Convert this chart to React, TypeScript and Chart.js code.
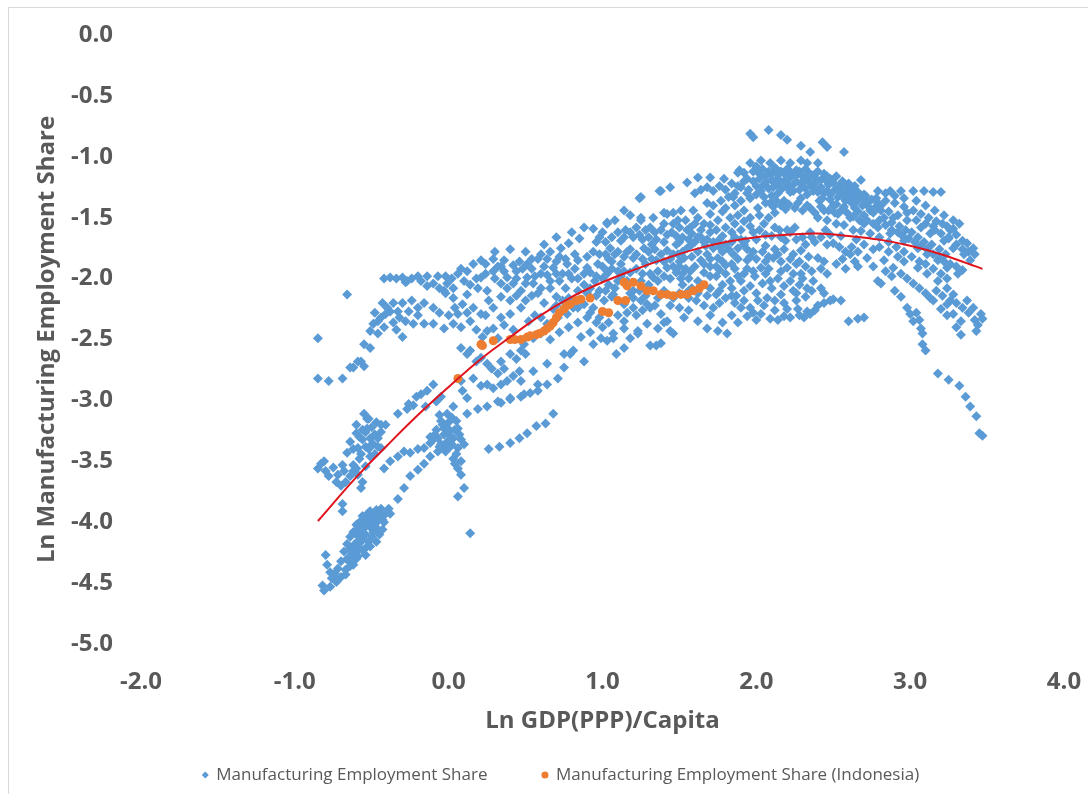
import React, { useEffect, useRef } from 'react';
import { Chart, registerables } from 'chart.js';

Chart.register(...registerables);

const X_TICKS = [-2, -1, 0, 1, 2, 3, 4];
const Y_TICKS = [-5, -4.5, -4, -3.5, -3, -2.5, -2, -1.5, -1, -0.5, 0];

const SERIES_LABEL = 'Manufacturing Employment Share';
const INDONESIA_LABEL = 'Manufacturing Employment Share (Indonesia)';
const X_TITLE = 'Ln GDP(PPP)/Capita';
const Y_TITLE = 'Ln Manufacturing Employment Share';

const blueLowerLeft: [number, number][] = [
  [-0.81,-4.56],[-0.82,-4.52],[-0.77,-4.53],[-0.73,-4.49],[-0.70,-4.45],[-0.67,-4.39],[-0.65,-4.32],[-0.62,-4.28],
  [-0.60,-4.23],[-0.57,-4.16],[-0.54,-4.10],[-0.51,-4.04],[-0.47,-4.00],[-0.49,-4.08],[-0.52,-4.16],[-0.56,-4.23],
  [-0.59,-4.28],[-0.62,-4.35],[-0.67,-4.43],[-0.72,-4.47],[-0.44,-3.95],[-0.46,-4.06],[-0.47,-4.16],[-0.51,-4.20],
  [-0.54,-4.27],[-0.41,-3.93],[-0.42,-4.00],[-0.44,-3.89],[-0.49,-3.94],[-0.52,-4.00],[-0.56,-4.08],[-0.59,-4.16],
  [-0.62,-4.20],[-0.47,-3.90],[-0.51,-3.91],[-0.54,-3.98],[-0.57,-4.04],[-0.60,-4.10],[-0.80,-4.27],[-0.79,-4.35],
  [-0.77,-4.41],[-0.69,-3.91],[-0.69,-3.85],[-0.64,-4.12],[-0.59,-4.06],[-0.55,-4.01],[-0.39,-3.89],[-0.43,-4.06],
  [-0.63,-4.26],[-0.61,-4.18],[-0.58,-4.12],[-0.55,-4.05],[-0.53,-3.96],[-0.50,-3.98],[-0.48,-4.02],[-0.46,-3.96],
  [-0.50,-4.12],[-0.53,-4.20],[-0.56,-4.14],[-0.58,-4.22],[-0.60,-4.30],[-0.64,-4.36],[-0.66,-4.30],[-0.45,-4.10],
  [-0.43,-3.98],
  [-0.58,-4.00],[-0.56,-3.95],[-0.52,-3.92],[-0.60,-4.02],[-0.62,-4.08],[-0.66,-4.18],[-0.68,-4.24],[-0.70,-4.32],
  [-0.72,-4.38],[-0.74,-4.42],[-0.76,-4.46],[-0.64,-4.22],[-0.48,-3.92],
];

const blueLeftMiddle: [number, number][] = [
  [-0.55,-3.11],[-0.52,-3.15],[-0.53,-3.23],[-0.51,-3.31],[-0.49,-3.36],[-0.46,-3.31],[-0.44,-3.39],[-0.59,-3.39],
  [-0.57,-3.44],[-0.62,-3.53],[-0.62,-3.58],[-0.59,-3.61],[-0.56,-3.67],[-0.57,-3.72],[-0.73,-3.67],[-0.72,-3.61],
  [-0.69,-3.53],[-0.81,-3.50],[-0.85,-3.56],[-0.83,-3.52],[-0.80,-3.58],[-0.66,-3.43],[-0.64,-3.34],[-0.60,-3.27],
  [-0.54,-3.38],[-0.51,-3.46],[-0.54,-3.54],[-0.67,-3.67],[-0.41,-3.20],
  [-0.60,-3.20],[-0.56,-3.24],[-0.50,-3.22],[-0.48,-3.28],[-0.56,-3.32],[-0.52,-3.40],[-0.48,-3.44],[-0.58,-3.48],
  [-0.60,-3.56],[-0.64,-3.62],[-0.68,-3.58],[-0.75,-3.55],[-0.78,-3.62],[-0.70,-3.70],
  [-0.62,-3.40],[-0.58,-3.30],[-0.54,-3.26],[-0.50,-3.36],[-0.46,-3.38],[-0.44,-3.26],[-0.47,-3.18],
  [-0.42,-3.56],[-0.38,-3.50],[-0.33,-3.46],[-0.29,-3.42],[-0.25,-3.43],[-0.20,-3.40],[-0.16,-3.39],[-0.12,-3.35],
  [-0.07,-3.31],[-0.03,-3.28],[0.01,-3.25],[0.06,-3.23],
  [-0.38,-3.93],[-0.33,-3.81],[-0.29,-3.72],[-0.25,-3.62],[-0.20,-3.57],[-0.16,-3.52],[-0.12,-3.46],[-0.07,-3.42],
  [-0.03,-3.39],[0.01,-3.38],
  [-0.03,-3.23],[0.03,-3.31],[-0.01,-3.34],[-0.05,-3.36],[-0.10,-3.32],[0.06,-3.39],[0.03,-3.48],[0.06,-3.56],
  [0.08,-3.61],[0.10,-3.72],[0.06,-3.79],[0.14,-4.09],[-0.02,-3.21],[-0.05,-3.17],[0.05,-3.17],[-0.01,-3.11],
  [0.03,-3.05],[0.08,-2.84],[0.12,-2.98],[0.09,-2.92],
  [-0.08,-3.24],[-0.04,-3.20],[0.00,-3.28],[0.04,-3.24],[0.02,-3.36],[-0.02,-3.42],[0.05,-3.44],[0.08,-3.32],
  [0.00,-3.18],[-0.06,-3.12],[0.02,-3.14],
  [-0.09,-3.28],[-0.06,-3.38],[0.07,-3.28],[0.10,-3.36],[-0.12,-3.30],[0.04,-3.52],[0.08,-3.50],
  [-0.33,-3.11],[-0.26,-3.03],[-0.18,-2.95],[-0.14,-2.92],[-0.10,-2.87],[-0.21,-2.97],[-0.15,-3.05],[-0.08,-3.01],
  [-0.05,-2.97],[-0.53,-3.15],[-0.44,-3.20],[-0.27,-3.07],[-0.23,-3.04],[-0.01,-3.25],
];

const blueCentre: [number, number][] = [
  [0.12,-3.11],[0.19,-3.07],[0.25,-3.05],[0.34,-3.02],[0.40,-2.99],[0.47,-2.97],[0.53,-2.94],[0.58,-2.87],
  [0.26,-3.40],[0.33,-3.38],[0.40,-3.35],[0.46,-3.31],[0.51,-3.27],[0.57,-3.21],[0.63,-3.19],[0.68,-3.11],
  [0.21,-2.88],[0.25,-2.87],[0.29,-2.90],[0.34,-2.87],[0.38,-2.84],[0.16,-2.82],[0.47,-2.84],[0.55,-2.76],
  [0.64,-2.70],[0.75,-2.62],[0.81,-2.59],[0.88,-2.68],[0.94,-2.54],[0.99,-2.49],[1.07,-2.49],[1.14,-2.41],
  [1.23,-2.43],[1.29,-2.37],[1.36,-2.41],[1.42,-2.35],[1.38,-2.53],[1.31,-2.55],[1.46,-2.45],
  [0.32,-3.01],[0.40,-2.98],[0.49,-2.95],[0.58,-2.92],[0.64,-2.87],[0.71,-2.82],[0.75,-2.73],[0.79,-2.62],
  [0.12,-2.62],[0.18,-2.68],[0.28,-2.74],[0.32,-2.78],[0.36,-2.74],[0.44,-2.66],[0.50,-2.62],[0.42,-2.80],
  [0.46,-2.76],
  [0.08,-2.57],[0.14,-2.59],[0.21,-2.65],[0.25,-2.70],[0.34,-2.68],[0.40,-2.62],[0.47,-2.59],[0.49,-2.54],
  [0.55,-2.49],[0.60,-2.45],[0.64,-2.37],[0.71,-2.32],[0.77,-2.29],[0.81,-2.24],[0.88,-2.21],[0.94,-2.24],
  [1.01,-2.18],[1.07,-2.13],[1.14,-2.21],[1.20,-2.10],[1.29,-2.21],[1.40,-2.10],[1.46,-2.16],
  [0.66,-2.50],[0.72,-2.44],[0.78,-2.40],[0.84,-2.36],[0.90,-2.32],[0.96,-2.36],[1.00,-2.40],[0.86,-2.48],
  [0.92,-2.44],
  [-0.28,-2.03],[-0.20,-1.98],[-0.14,-1.98],[-0.07,-1.98],[-0.02,-1.98],[0.08,-1.92],[0.16,-1.88],[0.21,-1.85],
  [0.29,-1.84],[0.36,-1.85],[0.42,-1.89],[0.51,-1.88],[0.58,-1.84],[0.64,-1.84],[0.73,-1.75],[0.78,-1.71],
  [0.85,-1.67],[0.94,-1.59],[1.03,-1.54],[1.14,-1.44],[1.24,-1.34],[1.25,-1.52],[1.37,-1.28],[1.44,-1.25],
  [1.40,-1.46],[1.33,-1.50],[1.46,-1.46],
  [0.30,-1.78],[0.40,-1.76],[0.50,-1.78],[0.62,-1.72],[0.70,-1.66],[0.80,-1.62],[0.88,-1.58],[0.96,-1.70],
  [1.00,-1.62],[1.08,-1.52],[1.18,-1.48],
  [-0.43,-2.20],[-0.41,-2.29],[-0.49,-2.37],[-0.46,-2.45],[-0.51,-2.57],[-0.57,-2.68],[-0.62,-2.73],[-0.26,-2.27],
  [-0.23,-2.37],[-0.16,-2.37],[-0.10,-2.37],[-0.03,-2.41],[0.03,-2.37],[0.06,-2.29],[0.09,-2.21],[0.03,-2.16],
  [-0.03,-2.10],[-0.01,-2.04],[0.03,-2.08],[0.12,-2.13],[0.19,-2.08],[0.21,-1.99],[0.25,-2.10],[0.29,-2.24],
  [0.34,-2.32],[0.40,-2.29],[0.47,-2.24],[0.29,-2.41],[0.32,-2.49],[0.25,-2.43],[0.21,-2.29],[0.16,-2.24],
  [0.12,-1.94],[0.29,-1.94],[0.38,-1.99],[0.42,-2.04],[0.47,-2.10],[0.51,-1.99],[0.55,-2.04],[0.60,-1.96],
  [0.68,-1.91],[0.77,-1.88],[0.84,-1.85],[0.90,-1.91],[0.97,-1.88],[1.03,-1.96],[1.10,-1.94],[1.16,-2.02],
  [1.25,-2.02],[1.33,-1.99],[1.42,-1.91],[1.49,-1.80],
  [-0.18,-2.02],[-0.14,-2.06],[-0.10,-2.04],[-0.06,-2.08],[-0.02,-2.12],[0.02,-2.00],[0.06,-1.96],[0.10,-2.02],
  [0.14,-2.05],[0.18,-2.00],[0.24,-1.96],[0.30,-2.00],[0.34,-2.04],[0.38,-2.08],[0.44,-2.14],[0.50,-2.18],
  [0.54,-2.14],[0.60,-2.08],[0.66,-2.02],[0.74,-1.96],[0.82,-1.92],[0.88,-1.96],[-0.16,-2.20],[-0.10,-2.24],
  [-0.06,-2.28],[-0.20,-2.30],[0.00,-2.30],[0.08,-2.40],[0.14,-2.35],[0.24,-2.30],[0.36,-2.38],[0.42,-2.42],
  [0.52,-2.35],[0.56,-2.30],[0.60,-2.32],[0.68,-2.25],[0.74,-2.18],[0.84,-2.10],[0.90,-2.12],[0.34,-2.15],
  [0.40,-2.18],[0.26,-2.18],[0.04,-2.24],[0.12,-2.28],[0.18,-2.42],[0.22,-2.48],
  [-0.40,-2.24],[-0.36,-2.20],[-0.46,-2.35],[-0.51,-2.43],[-0.38,-2.27],[-0.27,-2.02],[-0.28,-2.35],[-0.33,-2.27],
  [-0.66,-2.13],[-0.55,-2.54],[-0.59,-2.68],[-0.55,-2.72],
  [-0.48,-2.28],[-0.44,-2.32],[-0.42,-2.40],[-0.36,-2.36],[-0.32,-2.32],[-0.30,-2.20],[-0.24,-2.18],[-0.20,-2.24],
  [-0.34,-2.42],[-0.30,-2.48],
  [-0.42,-2.00],[-0.38,-1.99],[-0.34,-2.00],[-0.30,-1.99],[-0.24,-2.00],
  [-0.85,-2.49],[-0.85,-2.82],[-0.78,-2.84],[-0.69,-2.82],[-0.64,-2.73],
  [0.58,-2.12],[0.66,-2.08],[0.72,-2.02],[0.80,-2.00],[0.88,-2.05],[0.95,-2.02],[0.70,-2.15],[0.62,-2.20],
  [1.05,-1.75],[1.15,-1.60],[1.35,-1.68],[1.48,-1.65],[1.55,-1.60],[1.60,-1.70],[1.50,-1.90],[1.35,-1.85],
  [0.92,-1.95],[0.96,-1.98],[1.00,-2.00],[1.04,-2.05],[1.08,-2.08],[1.12,-1.98],[1.18,-1.95],[1.22,-1.92],
  [1.28,-1.88],[1.32,-1.84],[1.38,-1.80],[1.44,-1.84],[1.50,-1.86],[1.18,-2.12],[1.24,-2.10],[1.30,-2.05],
  [1.36,-2.02],[1.44,-2.00],[1.52,-2.05],[1.58,-2.08],[0.98,-2.10],[1.06,-2.15],[1.26,-1.68],[1.32,-1.72],
  [1.40,-1.70],[1.16,-1.78],
  [0.32,-1.90],[0.36,-1.94],[0.44,-1.94],[0.48,-1.92],[0.54,-1.92],[0.62,-1.90],[0.70,-1.86],[0.76,-1.84],
  [0.82,-1.80],[0.90,-1.82],[0.94,-1.78],[0.98,-1.80],[1.04,-1.84],[1.08,-1.80],[0.44,-2.00],[0.50,-2.04],
  [0.56,-1.98],[0.64,-1.97],[0.70,-1.96],[0.78,-1.96],[0.84,-2.00],[0.92,-2.08],[0.96,-2.14],[1.02,-2.10],
  [0.76,-2.08],[0.70,-2.22],[0.78,-2.16],[0.84,-2.24],[0.92,-2.28],[0.98,-2.32],[1.04,-2.36],[1.10,-2.30],
  [1.16,-2.28],[1.22,-2.30],[1.26,-2.26],[1.34,-2.22],[1.20,-2.16],[1.28,-2.14],[1.36,-2.16],[1.44,-2.22],
  [1.50,-2.24],[1.56,-2.26],[1.50,-2.12],[1.56,-2.16],
  [0.24,-1.88],[0.34,-1.90],[0.46,-1.86],[0.54,-1.84],[0.60,-1.80],[0.66,-1.78],[0.72,-1.82],
];

const blueInner: [number, number][] = [
  [0.98,-1.66],[1.02,-1.70],[1.06,-1.66],[1.10,-1.62],[1.14,-1.66],[1.18,-1.62],[1.22,-1.58],[1.24,-1.64],
  [1.28,-1.60],[1.30,-1.66],[1.34,-1.62],[1.38,-1.60],[1.42,-1.64],[1.02,-1.80],[1.06,-1.86],[1.10,-1.78],
  [1.14,-1.82],[1.18,-1.76],[1.22,-1.80],[1.26,-1.84],[1.30,-1.78],[1.34,-1.76],[1.40,-1.86],[1.46,-1.90],
  [1.00,-1.90],[1.06,-1.92],[1.14,-1.94],[1.26,-1.96],[1.36,-1.94],[1.40,-1.98],
  [1.48,-1.72],[1.52,-1.78],[1.58,-1.72],[1.62,-1.66],[1.68,-1.68],[1.72,-1.70],[1.76,-1.74],[1.82,-1.76],
  [1.86,-1.66],[1.90,-1.68],[1.94,-1.76],[1.96,-1.82],[1.52,-1.96],[1.56,-2.00],[1.62,-2.02],[1.66,-1.88],
  [1.70,-1.84],[1.74,-1.90],[1.78,-1.86],[1.84,-1.88],[1.88,-1.98],[1.94,-1.92],[1.98,-1.94],[1.56,-2.10],
  [1.62,-2.12],[1.68,-2.14],[1.70,-2.08],[1.76,-2.10],[1.80,-2.16],[1.84,-2.14],[1.66,-2.22],[1.72,-2.24],
  [1.76,-2.20],[1.70,-2.30],
  [2.02,-1.60],[2.06,-1.64],[2.12,-1.58],[2.16,-1.66],[2.20,-1.60],[2.26,-1.68],[2.32,-1.72],[2.36,-1.66],
  [2.42,-1.66],[2.48,-1.64],[2.04,-1.78],[2.08,-1.82],[2.14,-1.80],[2.18,-1.76],[2.22,-1.84],[2.28,-1.86],
  [2.32,-1.90],[2.36,-1.94],[2.42,-1.92],[2.46,-1.96],[2.08,-1.92],[2.16,-1.94],[2.24,-1.96],[2.30,-2.00],
  [2.54,-1.74],[2.58,-1.78],[2.62,-1.74],[2.66,-1.78],[2.70,-1.72],[2.76,-1.76],[2.80,-1.74],[2.86,-1.78],
  [2.92,-1.82],[2.96,-1.86],[2.56,-1.84],[2.64,-1.86],[2.76,-1.90],[2.84,-1.94],[2.88,-1.98],
];

const blueRight: [number, number][] = [
  [1.96,-0.81],[1.98,-0.84],[2.08,-0.78],[2.16,-0.82],[2.20,-0.86],[2.29,-0.91],[2.35,-0.96],[2.43,-0.88],
  [2.46,-0.92],[2.57,-0.96],
  [1.96,-1.05],[2.03,-1.03],[2.09,-1.05],[2.16,-1.03],[2.22,-1.05],[2.29,-1.03],[2.33,-1.05],[2.40,-1.05],
  [2.01,-1.11],[1.89,-1.11],[1.92,-1.13],
  [2.13,-1.10],[2.19,-1.15],[2.26,-1.11],[2.32,-1.18],[2.39,-1.13],[2.45,-1.19],[2.15,-1.24],[2.22,-1.29],
  [2.29,-1.34],[2.37,-1.28],[2.43,-1.34],[2.50,-1.40],[2.13,-1.36],[2.19,-1.43],[2.55,-1.24],[2.61,-1.28],
  [2.68,-1.19],[2.58,-1.36],[2.64,-1.42],[2.71,-1.32],[2.74,-1.44],
  [2.00,-1.08],[2.04,-1.10],[2.08,-1.12],[2.12,-1.09],[2.16,-1.12],[2.20,-1.10],[2.24,-1.14],[2.28,-1.12],
  [2.32,-1.10],[2.36,-1.15],[2.40,-1.12],[2.44,-1.14],[2.48,-1.18],[2.52,-1.16],[2.56,-1.20],[2.60,-1.22],
  [2.64,-1.24],
  [1.98,-1.20],[2.02,-1.18],[2.06,-1.21],[2.10,-1.19],[2.14,-1.18],[2.18,-1.20],[2.22,-1.17],[2.26,-1.20],
  [2.30,-1.22],[2.34,-1.20],[2.38,-1.22],[2.42,-1.25],[2.47,-1.23],[2.51,-1.27],[2.55,-1.29],[2.59,-1.31],
  [2.63,-1.30],[2.67,-1.34],[2.71,-1.36],[2.75,-1.35],[2.79,-1.38],
  [1.90,-1.25],[1.95,-1.27],[2.00,-1.31],[2.05,-1.33],[2.10,-1.32],[2.14,-1.30],[2.24,-1.28],[2.33,-1.31],
  [2.41,-1.36],[2.48,-1.35],[2.52,-1.39],[2.57,-1.41],[2.62,-1.38],[2.66,-1.45],[2.70,-1.48],[2.76,-1.46],
  [2.83,-1.50],[2.88,-1.54],[2.93,-1.57],[2.97,-1.60],[3.01,-1.62],[3.05,-1.66],[3.09,-1.70],[3.14,-1.72],
  [3.19,-1.76],[3.23,-1.80],
  [2.40,-1.50],[2.46,-1.52],[2.52,-1.55],[2.57,-1.56],[2.63,-1.60],[2.68,-1.61],[2.74,-1.63],[2.80,-1.66],
  [2.86,-1.70],[2.91,-1.74],[2.96,-1.78],[3.01,-1.82],[3.06,-1.86],[3.10,-1.88],[3.15,-1.92],[3.20,-1.96],
  [3.24,-2.00],
  [2.78,-1.34],[2.84,-1.36],[2.90,-1.38],[2.96,-1.41],[3.02,-1.44],[3.07,-1.47],[3.12,-1.50],[3.17,-1.53],
  [3.21,-1.55],[3.26,-1.60],[3.30,-1.64],[3.34,-1.69],
  [2.79,-1.28],[2.87,-1.28],[2.94,-1.28],[3.02,-1.28],[3.09,-1.28],[3.15,-1.29],[3.20,-1.29],
  [3.15,-1.57],[3.24,-1.57],[3.28,-1.59],[3.25,-1.67],[3.37,-1.71],[3.41,-1.75],
  [3.15,-2.18],[3.24,-2.21],[3.28,-2.29],[3.33,-2.35],[3.37,-2.18],[3.41,-2.24],[3.46,-2.29],[3.47,-2.33],
  [3.43,-2.43],[3.07,-2.41],[3.08,-2.45],[3.08,-2.54],[3.10,-2.59],[3.18,-2.78],[3.25,-2.83],[3.32,-2.88],
  [3.36,-2.97],[3.39,-3.05],[3.43,-3.13],[3.45,-3.27],[3.47,-3.29],
  [2.98,-2.00],[3.02,-2.04],[3.06,-2.08],[3.10,-2.12],[3.13,-2.16],[3.17,-2.10],[3.21,-2.14],[3.26,-2.18],
  [3.30,-2.20],[3.34,-2.24],[3.38,-2.28],[3.42,-2.34],[3.44,-2.38],[3.20,-2.25],[3.24,-2.30],[3.30,-2.40],
  [3.33,-2.46],[2.90,-2.10],[2.94,-2.15],[3.04,-2.28],[3.06,-2.34],
  [2.98,-2.24],[3.00,-2.29],[3.02,-2.35],[2.79,-2.02],[2.81,-2.04],[2.70,-2.32],[2.66,-2.33],[2.60,-2.35],
  [2.55,-2.18],[2.50,-2.17],[2.48,-2.18],
  [1.94,-2.31],[2.03,-2.29],[2.09,-2.33],[2.18,-2.31],[2.27,-2.25],[2.31,-2.32],[2.33,-2.27],[2.35,-2.29],
  [1.92,-2.18],[2.01,-2.18],[2.07,-2.16],[2.16,-2.13],[2.24,-2.10],[2.33,-2.08],[2.42,-2.08],
  [1.70,-1.90],[1.76,-1.93],[1.86,-1.92],[1.92,-1.96],[1.99,-1.98],[2.06,-1.96],[2.14,-2.00],[2.22,-2.02],
  [2.28,-2.05],[2.36,-2.10],[2.44,-2.12],[1.78,-2.05],[1.84,-2.08],[1.92,-2.10],[2.00,-2.12],[2.10,-2.08],
  [2.18,-2.20],[2.26,-2.18],[2.40,-2.22],[1.96,-2.24],[2.12,-2.26],
  [1.86,-2.20],[1.90,-2.24],[1.98,-2.28],[2.05,-2.22],[2.12,-2.18],[2.20,-2.25],[2.22,-2.32],[2.28,-2.30],
  [2.38,-2.26],[2.44,-2.20],[1.84,-2.30],[1.78,-2.36],[1.88,-2.36],[2.00,-2.34],[2.14,-2.34],
  [1.81,-2.45],[1.75,-2.43],[1.68,-2.41],[1.62,-2.35],[1.53,-2.32],[1.44,-2.43],[1.40,-2.36],[1.35,-2.55],
  [1.23,-2.45],[1.18,-2.49],[1.14,-2.57],[1.09,-2.62],
  [1.42,-1.77],[1.53,-1.83],[1.64,-1.85],[1.75,-1.83],[1.85,-1.80],[1.94,-1.85],[2.03,-1.91],[2.11,-1.83],
  [2.20,-1.91],[2.29,-1.96],[2.37,-2.02],[2.29,-1.77],[2.40,-1.83],[2.50,-1.71],[2.61,-1.80],[2.72,-1.83],
  [2.83,-1.85],[2.89,-1.91],[2.94,-1.96],[3.05,-1.91],[3.11,-1.96],[3.18,-2.02],[3.24,-2.08],[3.28,-2.13],
  [1.57,-1.94],[1.70,-1.98],[1.83,-2.02],[1.96,-2.06],[2.09,-2.02],[1.80,-1.89],[1.67,-1.73],[1.93,-1.69],
  [2.06,-1.73],[2.19,-1.69],[1.64,-2.06],[1.51,-2.00],[1.74,-2.13],[1.87,-2.14],[1.61,-2.18],
  [1.45,-1.62],[1.52,-1.66],[1.58,-1.63],[1.64,-1.66],[1.70,-1.62],[1.78,-1.65],[1.84,-1.62],[1.90,-1.60],
  [1.98,-1.62],[2.10,-1.65],[2.22,-1.62],[2.30,-1.66],[2.38,-1.70],[2.46,-1.72],[1.55,-1.75],[1.62,-1.78],
  [1.72,-1.75],[1.80,-1.72],[1.88,-1.75],[1.98,-1.78],[2.12,-1.76],[2.24,-1.80],[2.34,-1.82],[2.44,-1.86],
  [2.52,-1.88],[2.58,-1.92],[2.66,-1.90],
  [1.46,-1.55],[1.50,-1.58],[1.54,-1.52],[1.60,-1.55],[1.64,-1.60],[1.70,-1.56],[1.74,-1.60],[1.80,-1.58],
  [1.86,-1.55],[1.92,-1.53],[1.96,-1.57],[1.50,-1.70],[1.56,-1.68],[1.66,-1.70],[1.76,-1.68],[1.84,-1.70],
  [1.92,-1.72],[2.00,-1.68],[1.46,-1.80],[1.58,-1.82],[1.68,-1.80],[1.78,-1.78],[1.88,-1.84],[2.00,-1.84],
  [2.06,-1.86],[2.16,-1.86],[2.26,-1.88],[1.60,-1.90],[1.66,-1.95],[1.74,-1.98],[1.80,-1.96],[1.90,-2.02],
  [2.04,-2.04],[2.18,-2.06],[2.26,-2.12],[2.32,-2.15],[1.48,-1.95],[1.54,-1.92],
  [1.38,-1.28],[1.55,-1.21],[1.62,-1.17],[1.70,-1.17],[1.79,-1.18],[1.88,-1.13],[1.25,-1.33],[1.03,-1.55],
  [1.25,-1.50],[1.42,-1.47],[1.51,-1.44],[1.59,-1.44],[1.68,-1.38],[1.77,-1.36],[1.85,-1.33],[1.94,-1.30],
  [2.03,-1.28],[2.11,-1.25],[2.20,-1.22],[2.29,-1.22],[2.37,-1.25],[2.46,-1.28],[2.55,-1.30],[2.63,-1.33],
  [2.72,-1.38],[2.81,-1.44],[2.89,-1.50],[2.98,-1.52],[3.07,-1.58],[3.13,-1.63],[3.22,-1.69],[3.28,-1.75],
  [3.35,-1.80],[3.39,-1.85],
  [1.60,-1.30],[1.64,-1.27],[1.68,-1.25],[1.72,-1.28],[1.76,-1.24],[1.80,-1.27],[1.84,-1.22],[1.88,-1.24],
  [1.92,-1.20],[1.72,-1.40],[1.80,-1.42],[1.86,-1.40],[1.62,-1.50],[1.70,-1.47],[1.78,-1.45],[1.88,-1.48],
  [1.96,-1.50],[2.02,-1.48],[2.08,-1.50],[2.12,-1.46],
  [1.31,-1.58],[1.40,-1.55],[1.49,-1.52],[1.57,-1.58],[1.66,-1.55],[1.75,-1.52],[1.83,-1.50],[1.92,-1.44],
  [2.01,-1.42],[2.09,-1.38],[2.18,-1.36],[2.27,-1.38],[2.35,-1.42],[2.44,-1.44],[2.53,-1.47],[2.61,-1.50],
  [2.70,-1.55],[2.79,-1.58],[2.87,-1.63],[2.96,-1.69],[3.05,-1.75],[3.11,-1.80],[3.18,-1.85],[3.24,-1.91],
  [3.31,-1.96],
  [1.03,-1.94],[1.12,-1.88],[1.20,-1.83],[1.27,-1.75],[1.12,-1.69],[1.20,-1.66],[1.10,-2.02],[1.31,-1.96],
  [1.25,-2.18],[1.31,-2.24],[1.38,-2.29],[1.20,-2.24],[1.14,-2.35],[1.07,-2.45],[1.03,-2.51],
  [2.05,-1.55],[2.15,-1.60],[2.25,-1.58],[2.35,-1.62],[2.45,-1.60],[2.55,-1.65],[2.65,-1.68],
];

const blueTopBlock: [number, number][] = [
  [2.02,-1.14],[2.06,-1.16],[2.10,-1.14],[2.14,-1.15],[2.18,-1.13],[2.22,-1.12],[2.26,-1.15],[2.30,-1.16],
  [2.34,-1.13],[2.38,-1.17],[2.42,-1.19],[2.46,-1.16],[2.50,-1.21],[2.54,-1.24],[2.58,-1.26],[2.62,-1.27],
  [2.66,-1.29],[2.70,-1.31],
  [2.04,-1.24],[2.08,-1.26],[2.12,-1.22],[2.16,-1.27],[2.20,-1.25],[2.24,-1.23],[2.28,-1.27],[2.32,-1.26],
  [2.36,-1.24],[2.40,-1.29],[2.44,-1.30],[2.48,-1.31],[2.53,-1.33],[2.57,-1.34],[2.61,-1.35],[2.65,-1.37],
  [2.69,-1.40],[2.73,-1.41],[2.77,-1.42],[2.81,-1.40],
  [2.06,-1.38],[2.11,-1.41],[2.16,-1.40],[2.21,-1.39],[2.25,-1.42],[2.30,-1.44],[2.33,-1.40],[2.38,-1.46],
  [2.42,-1.41],[2.47,-1.44],[2.51,-1.46],[2.55,-1.44],[2.59,-1.46],[2.63,-1.49],[2.67,-1.52],[2.72,-1.52],
  [2.76,-1.55],[2.80,-1.52],[2.84,-1.56],[2.88,-1.60],[2.92,-1.62],[2.95,-1.65],[2.99,-1.67],[3.03,-1.70],
  [3.07,-1.73],[3.11,-1.76],[3.15,-1.80],[3.19,-1.83],[3.22,-1.86],[3.26,-1.88],[3.30,-1.90],[3.34,-1.93],
  [2.86,-1.45],[2.92,-1.48],[2.98,-1.46],[3.04,-1.52],[3.10,-1.55],[3.16,-1.60],[3.20,-1.63],[3.25,-1.66],
  [3.30,-1.72],[3.34,-1.76],[3.38,-1.78],[3.42,-1.80],
  [2.84,-1.30],[2.90,-1.32],[2.96,-1.34],[3.04,-1.36],[3.10,-1.40],[3.16,-1.44],[3.22,-1.48],[3.28,-1.52],
  [3.32,-1.55],
  [1.98,-1.12],[1.94,-1.18],[2.00,-1.24],[1.96,-1.34],[1.90,-1.36],[1.86,-1.30],[1.82,-1.33],
];

const indonesiaSeries: [number, number][] = [
  [0.06,-2.82],[0.21,-2.54],[0.22,-2.55],[0.29,-2.51],[0.40,-2.50],[0.43,-2.50],[0.47,-2.50],[0.51,-2.48],
  [0.53,-2.47],[0.57,-2.46],[0.59,-2.45],[0.62,-2.43],[0.64,-2.41],[0.66,-2.39],[0.68,-2.36],[0.70,-2.32],
  [0.72,-2.28],[0.75,-2.25],[0.77,-2.22],[0.79,-2.21],[0.83,-2.18],[0.86,-2.17],[0.92,-2.16],[1.00,-2.27],
  [1.04,-2.28],[1.10,-2.18],[1.15,-2.18],[1.14,-2.03],[1.16,-2.06],[1.20,-2.03],[1.25,-2.06],[1.29,-2.10],
  [1.33,-2.10],[1.38,-2.13],[1.42,-2.13],[1.46,-2.14],[1.51,-2.13],[1.55,-2.13],[1.59,-2.10],[1.63,-2.08],
  [1.66,-2.05],
];

const trendX = [-0.85, -0.6, -0.4, -0.2, 0.0, 0.2, 0.4, 0.6, 0.8, 1.0, 1.2, 1.4, 1.6, 1.8, 2.0, 2.2, 2.4, 2.6, 2.8, 3.0, 3.2, 3.47];
const trendY = [-3.99, -3.63, -3.37, -3.12, -2.89, -2.67, -2.48, -2.30, -2.15, -2.03, -1.93, -1.84, -1.76, -1.70, -1.66, -1.64, -1.63, -1.65, -1.68, -1.73, -1.80, -1.92];

const GREY = '#595959';
const FONT = '"Open Sans", sans-serif';

export default function App() {
  const ref = useRef<HTMLCanvasElement>(null);

  useEffect(() => {
    if (!ref.current) return;
    const blue = [...blueLowerLeft, ...blueLeftMiddle, ...blueCentre, ...blueInner, ...blueRight, ...blueTopBlock]
      .map(([x, y]) => ({ x, y }));
    const indo = indonesiaSeries.map(([x, y]) => ({ x, y }));
    const trend = trendX.map((x, i) => ({ x, y: trendY[i] }));

    const chart = new Chart(ref.current, {
      type: 'scatter',
      data: {
        datasets: [
          {
            label: SERIES_LABEL,
            data: blue,
            pointStyle: 'rectRot',
            pointRadius: 5,
            pointHoverRadius: 5,
            backgroundColor: '#5B9BD5',
            borderColor: '#5B9BD5',
            borderWidth: 0,
            pointBorderWidth: 0,
            order: 3,
          },
          {
            label: INDONESIA_LABEL,
            data: indo,
            pointStyle: 'circle',
            pointRadius: 4.5,
            pointHoverRadius: 4.5,
            backgroundColor: '#ED7D31',
            borderColor: '#ED7D31',
            borderWidth: 0,
            pointBorderWidth: 0,
            order: 2,
          },
          {
            label: 'Trend',
            data: trend,
            showLine: true,
            pointRadius: 0,
            pointHoverRadius: 0,
            borderColor: '#E0141C',
            backgroundColor: '#E0141C',
            borderWidth: 2,
            tension: 0.4,
            fill: false,
            order: 1,
          } as any,
        ],
      },
      options: {
        animation: false,
        responsive: false,
        devicePixelRatio: 1,
        events: [],
        layout: { padding: { left: 58, right: 24, top: 35, bottom: 0.5 } },
        plugins: {
          legend: {
            position: 'bottom',
            labels: {
              usePointStyle: true,
              boxWidth: 5,
              boxHeight: 5,
              padding: 55,
              color: GREY,
              font: { family: FONT, size: 17 },
              filter: (item: any) => item.datasetIndex !== 2,
              sort: (a: any, b: any) => a.datasetIndex - b.datasetIndex,
            },
          },
          tooltip: { enabled: false },
        },
        scales: {
          x: {
            type: 'linear',
            min: -2,
            max: 4,
            afterBuildTicks: (s: any) => { s.ticks = X_TICKS.map((value) => ({ value })); },
            afterFit: (s: any) => { s.height = 67.5; s.paddingLeft = 0; s.paddingRight = 0; },
            grid: { display: false, drawTicks: false },
            border: { display: false },
            ticks: {
              autoSkip: false,
              maxRotation: 0,
              padding: 24,
              color: GREY,
              font: { family: FONT, size: 24, weight: 'bold' },
              callback: (v: any) => Number(v).toFixed(1),
            },
            title: {
              display: true,
              text: X_TITLE,
              color: GREY,
              font: { family: FONT, size: 24, weight: 'bold' },
              padding: { top: 0, bottom: -24 },
            },
          },
          y: {
            type: 'linear',
            min: -5,
            max: 0,
            afterBuildTicks: (s: any) => { s.ticks = Y_TICKS.map((value) => ({ value })); },
            afterFit: (s: any) => { s.width = 83; s.paddingTop = 0; s.paddingBottom = 0; },
            grid: { display: false, drawTicks: false },
            border: { display: false },
            ticks: {
              padding: 28,
              color: GREY,
              font: { family: FONT, size: 24, weight: 'bold' },
              callback: (v: any) => Number(v).toFixed(1),
            },
            title: {
              display: true,
              text: Y_TITLE,
              color: GREY,
              font: { family: FONT, size: 24, weight: 'bold' },
              padding: { top: -25.4, bottom: 0 },
            },
          },
        },
      } as any,
    });
    return () => chart.destroy();
  }, []);

  return (
    <div style={{ position: 'fixed', left: 0, top: 0, width: 1088, height: 794, overflow: 'hidden', background: '#fff' }}>
      <div
        style={{
          position: 'absolute', left: 8, top: 7, width: 1200, height: 900,
          borderLeft: '1px solid #d9d9d9', borderTop: '1px solid #d9d9d9',
        }}
      />
      <canvas
        ref={ref}
        width={1088}
        height={794}
        style={{ position: 'absolute', left: 0, top: 0, width: 1088, height: 794, display: 'block' }}
      />
    </div>
  );
}
